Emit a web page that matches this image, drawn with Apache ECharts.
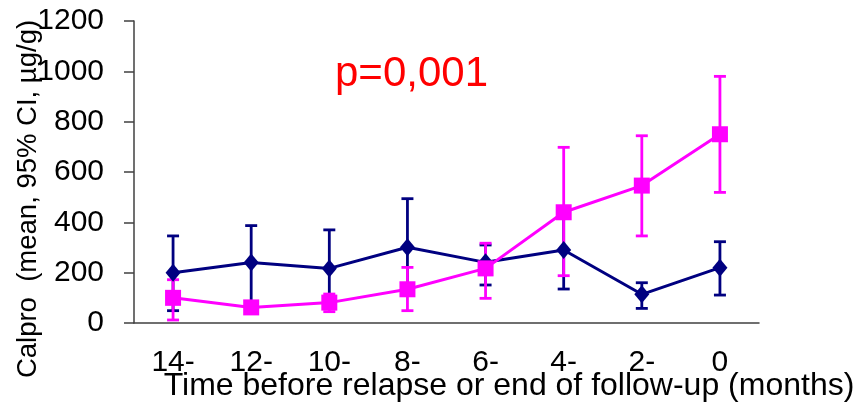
<!DOCTYPE html>
<html>
<head>
<meta charset="utf-8">
<script src="https://cdn.jsdelivr.net/npm/echarts@6/dist/echarts.min.js"></script>
<style>
  html, body { margin: 0; padding: 0; background: #fff; }
  #chart { width: 859px; height: 406px; }
</style>
</head>
<body>
<div id="chart"></div>
<script>
const categories = ["14-", "12-", "10-", "8-", "6-", "4-", "2-", "0"];
const yTicks = [0, 200, 400, 600, 800, 1000, 1200];

// navy series (diamonds)
const blueMean = [200, 240, 217, 301, 241, 290, 114, 220];
const blueLow = [49, 80, 100, 110, 151, 135, 58, 111];
const blueHigh = [346, 387, 370, 494, 310, 445, 160, 323];

// magenta series (squares)
const pinkMean = [100, 62, 81, 134, 217, 440, 546, 750];
const pinkLow = [12, 42, 45, 49, 98, 188, 346, 519];
const pinkHigh = [172, 84, 115, 221, 317, 698, 744, 980];

const yAxisTitle = "Calpro  (mean, 95% CI, µg/g)";
const xAxisTitle = "Time before relapse or end of follow-up (months)";
const pValueText = "p=0,001";

const FONT = "'Liberation Sans', Arial, sans-serif";
const NAVY = "#000080";
const PINK = "#ff00ff";
const AXIS = "#404040";

function errorBarRenderer(color) {
  return function (params, api) {
    const idx = api.value(0);
    const lo = api.coord([idx, api.value(1)]);
    const hi = api.coord([idx, api.value(2)]);
    const half = 6;
    const style = { stroke: color, lineWidth: 2.8 };
    return {
      type: "group",
      children: [
        { type: "line", shape: { x1: lo[0], y1: lo[1], x2: hi[0], y2: hi[1] }, style },
        { type: "line", shape: { x1: lo[0] - half, y1: lo[1], x2: lo[0] + half, y2: lo[1] }, style },
        { type: "line", shape: { x1: hi[0] - half, y1: hi[1], x2: hi[0] + half, y2: hi[1] }, style }
      ]
    };
  };
}

function errorData(low, high) {
  return low.map((v, i) => [i, v, high[i]]);
}

const chart = echarts.init(document.getElementById("chart"), null, { renderer: "canvas" });

chart.setOption({
  animation: false,
  backgroundColor: "#fff",
  grid: { left: 134, right: 100, top: 21, bottom: 83 },
  xAxis: {
    type: "category",
    data: categories,
    boundaryGap: true,
    axisLine: { lineStyle: { color: AXIS, width: 1.5 } },
    axisTick: { alignWithLabel: false, length: 10, lineStyle: { color: AXIS, width: 1.5 } },
    axisLabel: { color: "#000", fontFamily: FONT, fontSize: 30, margin: 25 }
  },
  yAxis: {
    type: "value",
    min: yTicks[0],
    max: yTicks[yTicks.length - 1],
    interval: yTicks[1] - yTicks[0],
    splitLine: { show: false },
    axisLine: { show: true, lineStyle: { color: AXIS, width: 1.5 } },
    axisTick: { show: true, length: 10, lineStyle: { color: AXIS, width: 1.5 } },
    axisLabel: {
      color: "#000",
      fontFamily: FONT,
      fontSize: 30,
      margin: 30,
      formatter: (v) => String(v)
    }
  },
  graphic: [
    {
      type: "text",
      x: 28,
      y: 199,
      rotation: Math.PI / 2,
      style: {
        text: yAxisTitle,
        fill: "#000",
        font: "27.5px " + FONT,
        align: "center",
        verticalAlign: "middle"
      },
      z: 10
    },
    {
      type: "text",
      x: 509,
      y: 386,
      style: {
        text: xAxisTitle,
        fill: "#000",
        font: "32px " + FONT,
        align: "center",
        verticalAlign: "middle"
      }
    },
    {
      type: "text",
      x: 335,
      y: 74,
      style: {
        text: pValueText,
        fill: "#ff0000",
        font: "42px " + FONT,
        align: "left",
        verticalAlign: "middle"
      }
    }
  ],
  series: [
    {
      type: "custom",
      name: "blue-ci",
      renderItem: errorBarRenderer(NAVY),
      data: errorData(blueLow, blueHigh),
      encode: { x: 0, y: [1, 2] },
      z: 2
    },
    {
      type: "custom",
      name: "pink-ci",
      renderItem: errorBarRenderer(PINK),
      data: errorData(pinkLow, pinkHigh),
      encode: { x: 0, y: [1, 2] },
      z: 3
    },
    {
      type: "line",
      name: "blue",
      data: blueMean,
      symbol: "diamond",
      symbolSize: [15, 18],
      lineStyle: { color: NAVY, width: 3 },
      itemStyle: { color: NAVY },
      z: 4
    },
    {
      type: "line",
      name: "pink",
      data: pinkMean,
      symbol: "rect",
      symbolSize: 16,
      lineStyle: { color: PINK, width: 3 },
      itemStyle: { color: PINK },
      z: 5
    }
  ]
});
</script>
</body>
</html>
